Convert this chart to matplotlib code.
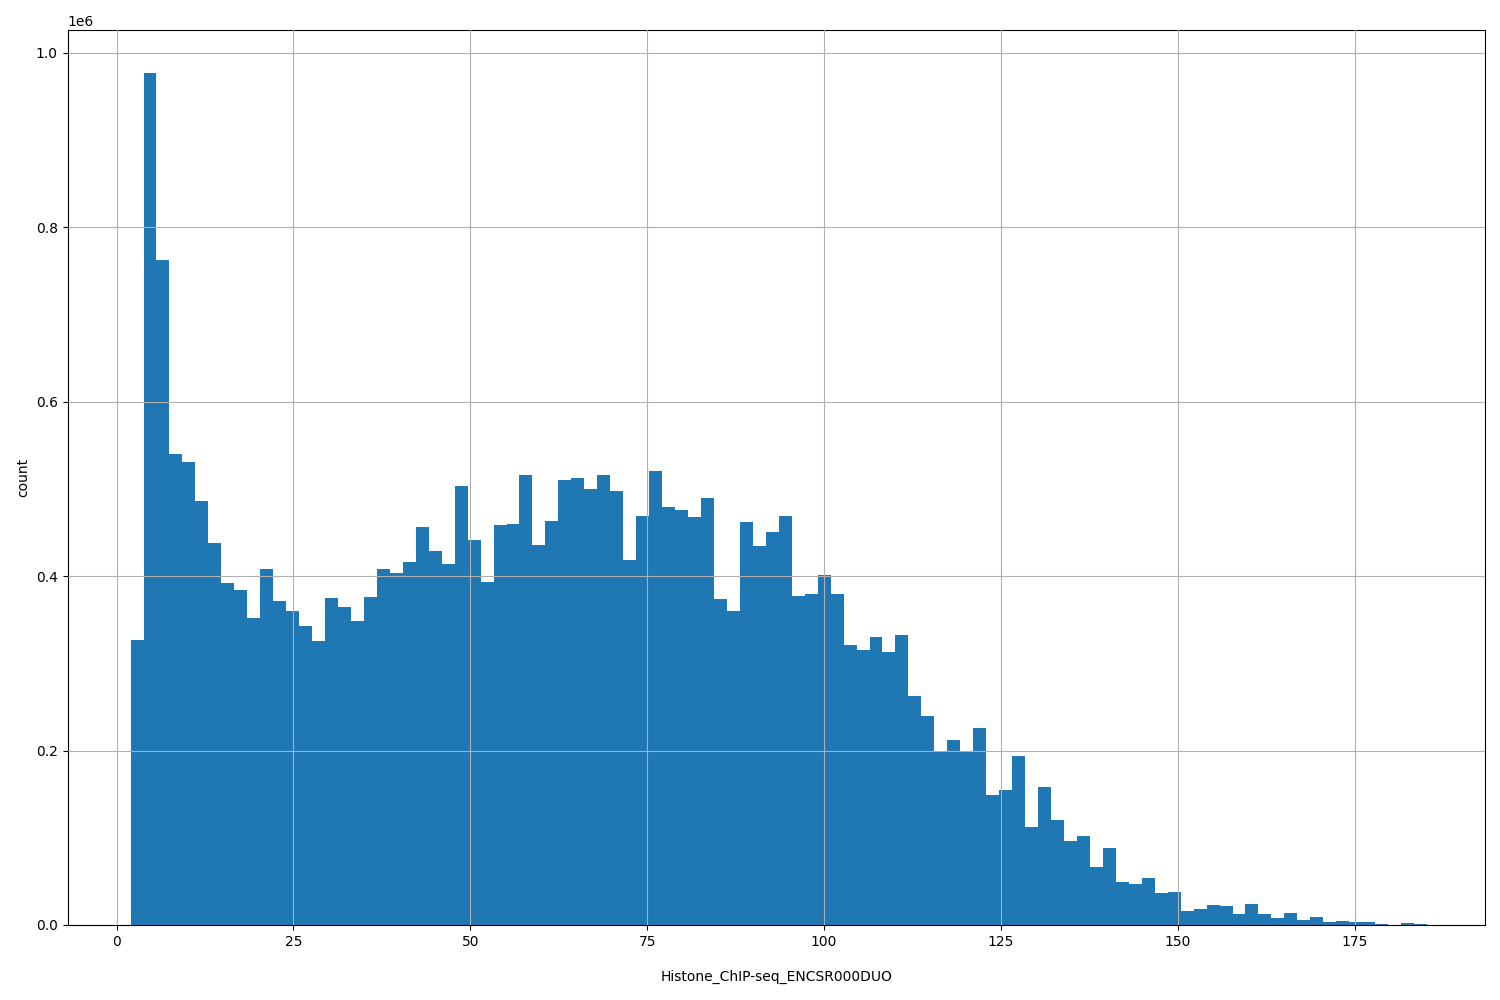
import numpy as np
import matplotlib
matplotlib.use("Agg")
import matplotlib.pyplot as plt

x_min, x_max = 1.98, 185.2
counts = np.array([
0.327,0.977,0.762,0.540,0.531,0.486,0.438,0.392,0.384,0.352,
0.408,0.371,0.360,0.343,0.326,0.375,0.364,0.349,0.376,0.408,
0.404,0.416,0.456,0.429,0.414,0.503,0.441,0.393,0.459,0.460,
0.516,0.436,0.463,0.510,0.512,0.500,0.516,0.497,0.418,0.469,
0.521,0.479,0.476,0.468,0.489,0.374,0.360,0.462,0.435,0.451,
0.469,0.377,0.380,0.401,0.379,0.321,0.315,0.330,0.313,0.332,
0.262,0.240,0.200,0.212,0.200,0.226,0.149,0.155,0.194,0.112,
0.158,0.120,0.096,0.102,0.066,0.088,0.049,0.047,0.054,0.037,
0.038,0.016,0.018,0.023,0.022,0.013,0.024,0.013,0.008,0.014,
0.006,0.009,0.003,0.005,0.004,0.004,0.001,0.0005,0.002,0.001]) * 1e6

edges = np.linspace(x_min, x_max, len(counts) + 1)

fig, ax = plt.subplots(figsize=(15, 10), dpi=100)
fig.subplots_adjust(left=0.045, right=0.99, top=0.97, bottom=0.075)
ax.hist(edges[:-1], bins=edges, weights=counts, color="#1f77b4")
ax.grid(True)
ax.set_axisbelow(False)
ax.set_xlim(-6.93, 193.4)
ax.set_ylim(0, 1.026e6)
ax.set_xlabel("Histone_ChIP-seq_ENCSR000DUO", labelpad=15)
ax.set_ylabel("count")
fig.savefig("out.png")
